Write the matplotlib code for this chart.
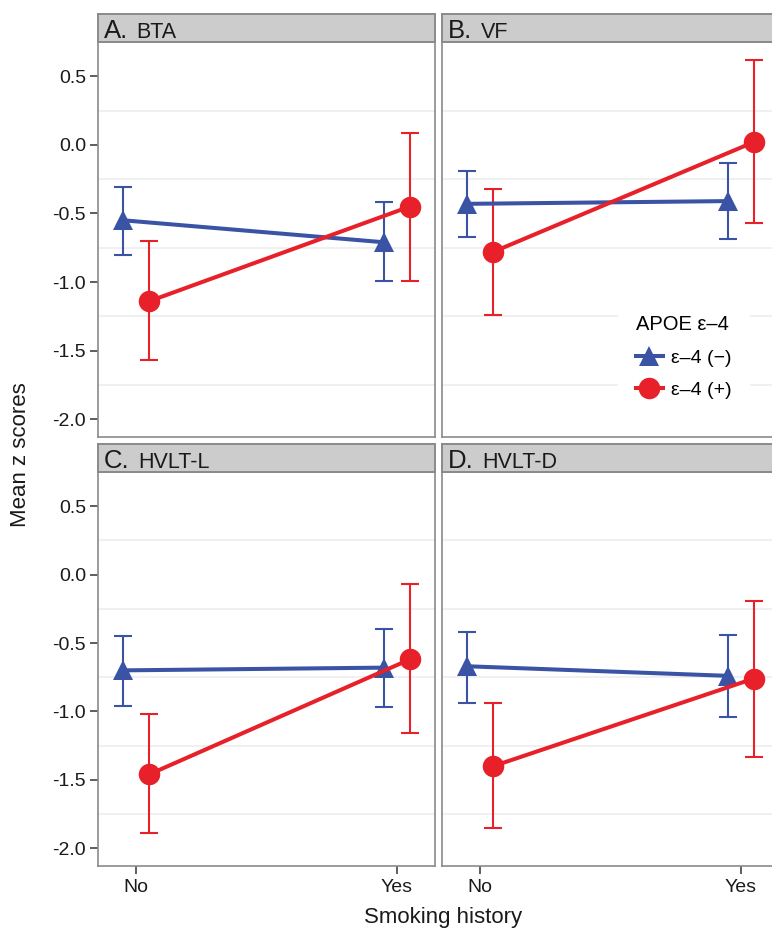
import numpy as np
import matplotlib.pyplot as plt
from matplotlib.lines import Line2D

plt.rcParams['font.family'] = ['Liberation Sans', 'DejaVu Sans']

# data
panel_letters = ['A.', 'B.', 'C.', 'D.']
tests = ['BTA', 'VF', 'HVLT-L', 'HVLT-D']
smoking = ['No', 'Yes']
yticks = [0.5, 0.0, -0.5, -1.0, -1.5, -2.0]

# APOE e4 negative (blue triangles)
neg_mean = [[-0.55, -0.71], [-0.43, -0.41], [-0.70, -0.68], [-0.67, -0.74]]
neg_low = [[-0.80, -0.99], [-0.67, -0.69], [-0.96, -0.97], [-0.94, -1.04]]
neg_high = [[-0.31, -0.42], [-0.19, -0.13], [-0.45, -0.40], [-0.42, -0.44]]

# APOE e4 positive (red circles)
pos_mean = [[-1.14, -0.45], [-0.78, 0.02], [-1.46, -0.62], [-1.40, -0.76]]
pos_low = [[-1.57, -0.99], [-1.24, -0.57], [-1.89, -1.16], [-1.85, -1.33]]
pos_high = [[-0.70, 0.09], [-0.32, 0.62], [-1.02, -0.07], [-0.94, -0.19]]

BLUE = '#3A53A4'
RED = '#E8202A'
BORDER = '#8A8A8A'
TXT = '#1A1A1A'

W, H = 772, 930
fig = plt.figure(figsize=(W / 100, H / 100), dpi=100)


def box(x0, y0, x1, y1):
    return [x0 / W, 1 - y1 / H, (x1 - x0) / W, (y1 - y0) / H]


cols = [(98, 435), (442, 779)]
rows = [(14, 42, 437), (444, 472, 866)]

x = np.arange(1, len(smoking) + 1)
dodge = 0.05

for i in range(4):
    r, c = divmod(i, 2)
    x0, x1 = cols[c]
    s0, p0, p1 = rows[r]

    ax = fig.add_axes(box(x0, p0, x1, p1))
    for sp in ax.spines.values():
        sp.set_color(BORDER)
        sp.set_linewidth(1.2)

    # grid only at the minor breaks, like the original
    ax.set_yticks(yticks)
    ax.set_yticks([0.25, -0.25, -0.75, -1.25, -1.75], minor=True)
    ax.grid(which='minor', axis='y', color='#EFEFEF', lw=1.3)
    ax.grid(which='major', visible=False)
    ax.set_axisbelow(True)

    groups = [
        (x - dodge, neg_mean[i], neg_low[i], neg_high[i], BLUE, '^', 15),
        (x + dodge, pos_mean[i], pos_low[i], pos_high[i], RED, 'o', 15.5),
    ]
    for xs, m, lo, hi, col, mk, ms in groups:
        m = np.array(m)
        err = [m - np.array(lo), np.array(hi) - m]
        ax.errorbar(xs, m, yerr=err, fmt='none', ecolor=col, elinewidth=1.5,
                    capsize=6.5, capthick=1.5, zorder=2)
        ax.plot(xs, m, color=col, lw=2.9, marker=mk, markersize=ms,
                markeredgewidth=0, zorder=3)

    ax.set_xlim(0.853, 2.147)
    ax.set_ylim(-2.13, 0.75)
    ax.set_xticks(x)
    ax.set_xticklabels(smoking)
    ax.tick_params(which='major', length=5.5, width=1.1, color='#333333',
                   labelsize=14, labelcolor=TXT, pad=3)
    ax.tick_params(axis='x', pad=4)
    ax.tick_params(which='minor', length=0)
    ax.set_yticklabels([f'{v:.1f}' for v in yticks])
    if c == 1:
        ax.tick_params(axis='y', labelleft=False, left=False)
    if r == 0:
        ax.tick_params(axis='x', labelbottom=False, bottom=False)

    # facet strip
    st = fig.add_axes(box(x0, s0, x1, p0))
    st.set_facecolor('#CCCCCC')
    st.set_xticks([])
    st.set_yticks([])
    for sp in st.spines.values():
        sp.set_color(BORDER)
        sp.set_linewidth(1.4)
    t1 = st.text(6 / (x1 - x0), 0.15, panel_letters[i], fontsize=18.5,
                 va='baseline', ha='left', color=TXT)
    st.annotate(tests[i], xy=(1, 0.15), xycoords=(t1, 'axes fraction'),
                xytext=(6, 0), textcoords='offset points',
                fontsize=15.5, va='baseline', ha='left', color=TXT)

fig.text(443 / W, 1 - 917 / H, 'Smoking history', ha='center', va='center',
         fontsize=16, color=TXT)
fig.text(21 / W, 1 - 455 / H, 'Mean z scores', ha='center', va='center',
         rotation=90, fontsize=16, color=TXT)

handles = [
    Line2D([], [], color=BLUE, lw=2.9, marker='^', markersize=15, markeredgewidth=0),
    Line2D([], [], color=RED, lw=2.9, marker='o', markersize=15.5, markeredgewidth=0),
]
leg = fig.legend(handles, ['ε–4 (−)', 'ε–4 (+)'], title='APOE ε–4',
                 loc='upper left', bbox_to_anchor=(618 / W, 1 - 298 / H),
                 frameon=True, facecolor='white', edgecolor='none', framealpha=1,
                 fontsize=14, title_fontsize=14.5, handlelength=1.4,
                 handletextpad=0.45, labelspacing=0.75, borderpad=0.9,
                 borderaxespad=0, fancybox=False)
leg._legend_box.align = 'left'
leg.get_frame().set_linewidth(0)

fig.savefig('out.png', dpi=100)
